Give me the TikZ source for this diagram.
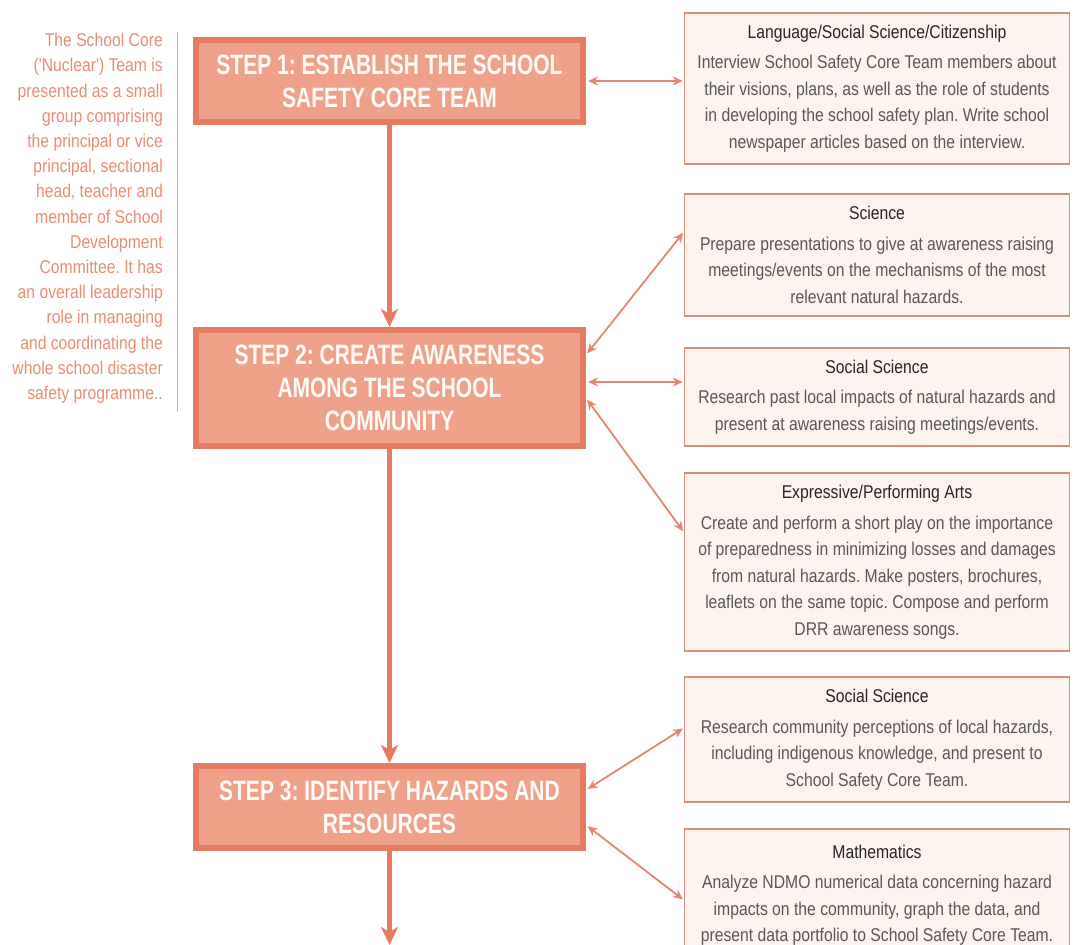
\documentclass[tikz,border=0pt]{standalone}
\usepackage{fontspec}
\usepackage{xcolor}
\usepackage{tikz}
\usetikzlibrary{arrows.meta}
\setmainfont{Liberation Sans}
\newfontfamily\stepfont{Liberation Sans}[FakeStretch=0.75]
\newfontfamily\notefont{Liberation Sans}[FakeStretch=0.85]
\definecolor{stepfill}{RGB}{239,162,137}
\definecolor{stepedge}{RGB}{229,124,98}
\definecolor{linkred}{RGB}{230,133,112}
\definecolor{subjfill}{RGB}{253,243,239}
\definecolor{subjedge}{RGB}{219,140,125}
\definecolor{notecol}{RGB}{232,140,115}
\definecolor{bodygray}{RGB}{88,88,88}

\tikzset{
  stepbox/.style={draw=stepedge, line width=6pt, fill=stepfill, minimum width=387pt,
    inner sep=0pt, align=center, text=white!96!stepfill,
    font=\stepfont\bfseries\fontsize{28}{33}\selectfont},
  subjbox/.style={draw=subjedge, line width=1.5pt, fill=subjfill, minimum width=385pt,
    inner sep=0pt, align=center, text=bodygray,
    font=\notefont\fontsize{18.5}{26.5}\selectfont},
  flow/.style={stepedge, line width=5pt, -{Stealth[length=18pt, width=17pt, inset=5pt]}},
  link/.style={linkred, line width=1.8pt,
    {Stealth[length=10pt, width=9pt]}-{Stealth[length=10pt, width=9pt]},
    shorten <=2pt, shorten >=1pt}
}
\newcommand{\subjtext}[2]{{\color{black!85}#1}\\[4pt]#2}

\begin{document}
\frenchspacing
\begin{tikzpicture}[x=1pt, y=-1pt]
    \clip (0,0) rectangle (1074,945);

    % side note on the core team
    \node[anchor=north east, inner sep=0pt, align=right, text=notecol,
          font=\notefont\fontsize{18.5}{25.2}\selectfont] (note) at (163,33)
        {The School Core\\('Nuclear') Team is\\presented as a small\\group comprising\\
         the principal or vice\\principal, sectional\\head, teacher and\\member of School\\
         Development\\Committee. It has\\an overall leadership\\role in managing\\
         and coordinating the\\whole school disaster\\safety programme..};
    \draw[notecol!75, line width=1pt] (177,32) -- (177,412);

    % steps
    \node[stepbox, minimum height=82pt] (step1) at (389.5,81)
        {STEP 1: ESTABLISH THE SCHOOL\\SAFETY CORE TEAM};
    \node[stepbox, minimum height=116pt] (step2) at (389.5,388)
        {STEP 2: CREATE AWARENESS\\AMONG THE SCHOOL\\COMMUNITY};
    \node[stepbox, minimum height=82pt] (step3) at (389.5,807)
        {STEP 3: IDENTIFY HAZARDS AND\\RESOURCES};
    \coordinate (next) at (389.5,945);

    % subject activities
    \node[subjbox, minimum height=151pt] (lang) at (877,88.5)
        {\subjtext{Language/Social Science/Citizenship}
         {Interview School Safety Core Team members about\\their visions, plans, as well as the role of students\\
          in developing the school safety plan. Write school\\newspaper articles based on the interview.}};
    \node[subjbox, minimum height=122pt] (sci) at (877,255)
        {\subjtext{Science}
         {Prepare presentations to give at awareness raising\\meetings/events on the mechanisms of the most\\
          relevant natural hazards.}};
    \node[subjbox, minimum height=98pt] (soc) at (877,397)
        {\subjtext{Social Science}
         {Research past local impacts of natural hazards and\\present at awareness raising meetings/events.}};
    \node[subjbox, minimum height=178pt] (arts) at (877,562)
        {\subjtext{Expressive/Performing Arts}
         {Create and perform a short play on the importance\\of preparedness in minimizing losses and damages\\
          from natural hazards. Make posters, brochures,\\leaflets on the same topic. Compose and perform\\
          DRR awareness songs.}};
    \node[subjbox, minimum height=125pt] (socb) at (877,739.5)
        {\subjtext{Social Science}
         {Research community perceptions of local hazards,\\including indigenous knowledge, and present to\\
          School Safety Core Team.}};
    \node[subjbox, minimum height=132pt] (math) at (877,895)
        {\subjtext{Mathematics}
         {Analyze NDMO numerical data concerning hazard\\impacts on the community, graph the data, and\\
          present data portfolio to School Safety Core Team.}};

    % main flow
    \draw[flow] (step1) -- (step2);
    \draw[flow] (step2) -- (step3);
    \draw[flow] (step3) -- (next);

    % links to the subjects
    \draw[link] (step1.east) -- (step1.east -| lang.west);
    \draw[link] ([yshift=33pt]step2.east) -- ([yshift=23pt]sci.west);
    \draw[link] ([yshift=6pt]step2.east) -- ([yshift=6pt]step2.east -| soc.west);
    \draw[link] ([yshift=-10pt]step2.east) -- ([yshift=30pt]arts.west);
    \draw[link] ([yshift=17pt]step3.east) -- ([yshift=11.5pt]socb.west);
    \draw[link] ([yshift=-18pt]step3.east) -- ([yshift=-5pt]math.west);
\end{tikzpicture}
\end{document}
